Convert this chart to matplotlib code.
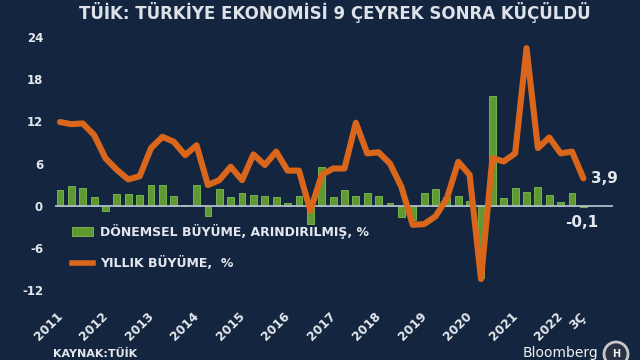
import matplotlib
matplotlib.use("Agg")
import matplotlib.pyplot as plt
from matplotlib.patches import Patch, Ellipse
from matplotlib.lines import Line2D
from matplotlib.transforms import ScaledTranslation
import numpy as np

# ---- data ----
quarterly = [2.3, 2.8, 2.6, 1.3, -0.8, 1.7, 1.75, 1.5, 2.9, 2.9, 1.4, 0.15,
             2.9, -1.5, 2.4, 1.3, 1.8, 1.5, 1.35, 1.2, 0.35, 1.45, -2.6, 5.5,
             1.3, 2.25, 1.45, 1.8, 1.4, 0.4, -1.55, -2.0, 1.8, 2.35, 1.2, 1.35,
             0.7, -10.3, 15.6, 1.05, 2.6, 1.95, 2.7, 1.6, 0.5, 1.85, -0.1]
annual = [11.9, 11.6, 11.7, 10.05, 6.75, 5.1, 3.75, 4.2, 8.2, 9.8, 9.1, 7.2,
          8.6, 2.95, 3.65, 5.55, 3.65, 7.3, 5.8, 7.7, 5.0, 5.0, -0.7, 4.4,
          5.3, 5.3, 11.8, 7.45, 7.6, 6.0, 2.7, -2.7, -2.6, -1.5, 1.05, 6.25,
          4.4, -10.4, 6.75, 6.3, 7.45, 22.4, 8.2, 9.7, 7.45, 7.7, 3.9]
year_labels = ["2011", "2012", "2013", "2014", "2015", "2016", "2017",
               "2018", "2019", "2020", "2021", "2022", "3Ç"]
label_idx = [0, 4, 8, 12, 16, 20, 24, 28, 32, 36, 40, 44, 46]
y_ticks = [-12, -6, 0, 6, 12, 18, 24]
title = "TÜİK: TÜRKİYE EKONOMİSİ 9 ÇEYREK SONRA KÜÇÜLDÜ"
bar_label = "DÖNEMSEL BÜYÜME, ARINDIRILMIŞ, %"
line_label = "YILLIK BÜYÜME,  %"
last_annual_txt = "3,9"
last_q_txt = "-0,1"

BG = "#13253f"
TXT = "#e4e8ee"
GREEN = "#5e9934"
ORANGE = "#d9661b"

W, H = 640, 360
fig = plt.figure(figsize=(6.4, 3.6), dpi=100, facecolor=BG)
ax_l, ax_r, ax_t, ax_b = 55, 613, 29.8, 304.4
ax = fig.add_axes([ax_l / W, 1 - ax_b / H, (ax_r - ax_l) / W, (ax_b - ax_t) / H])
ax.set_facecolor(BG)

x = np.arange(len(quarterly))
bars = ax.bar(x, quarterly, width=0.6, color=GREEN, edgecolor="#80be52",
              linewidth=0.6, zorder=2)
ax.axhline(0, color="#aebdcc", lw=1.3, zorder=3)
line, = ax.plot(x, annual, color=ORANGE, lw=4.4, solid_joinstyle="round",
                solid_capstyle="round", zorder=4)

ax.set_xlim(-0.44, 48.6)
ax.set_ylim(-14, 25)
for s in ax.spines.values():
    s.set_visible(False)
ax.set_yticks(y_ticks)
ax.set_yticklabels([str(v) for v in y_ticks])
ax.tick_params(axis="y", length=0, pad=8.6, labelsize=8.5, labelcolor=TXT)
for t in ax.get_yticklabels():
    t.set_fontweight("bold")
ax.set_xticks(label_idx)
ax.set_xticklabels(year_labels)
ax.tick_params(axis="x", length=0, pad=4, labelsize=8.8, labelcolor=TXT)
shift = ScaledTranslation(-4 / 100, 0, fig.dpi_scale_trans)
for t in ax.get_xticklabels():
    t.set_fontweight("bold")
    t.set_rotation(45)
    t.set_ha("right")
    t.set_va("top")
    t.set_rotation_mode("anchor")
    t.set_transform(t.get_transform() + shift)

# end labels
ax.annotate(last_annual_txt, xy=(46, annual[-1]), xytext=(8, 0),
            textcoords="offset pixels", ha="left", va="center",
            color=TXT, fontsize=11, fontweight="bold")
ax.annotate(last_q_txt, xy=(46, quarterly[-1]), xytext=(-18, -16),
            textcoords="offset pixels", ha="left", va="center",
            color=TXT, fontsize=11, fontweight="bold")

# legend
handles = [Patch(facecolor=GREEN, edgecolor="#80be52", linewidth=0.6),
           Line2D([0], [0], color=ORANGE, lw=4)]
leg = fig.legend(handles, [bar_label, line_label], loc="upper left",
                 bbox_to_anchor=(72 / W, 1 - 224 / H), frameon=False,
                 fontsize=9, handlelength=1.7, handletextpad=0.55,
                 labelspacing=1.35, borderaxespad=0, borderpad=0)
for t in leg.get_texts():
    t.set_color(TXT)
    t.set_fontweight("bold")

# title and footer
fig.text(335 / W, 1 - 2 / H, title, ha="center", va="top",
         color="#dde1e8", fontsize=12, fontweight="bold")
fig.text(53 / W, 1 - 349 / H, "KAYNAK:TÜİK", ha="left", va="top",
         color=TXT, fontsize=8, fontweight="bold")
fig.text(598 / W, 1 - 357 / H, "Bloomberg", ha="right", va="baseline",
         color="#f0f0f0", fontsize=10)
fig.add_artist(Ellipse((616 / W, 1 - 354 / H), 24 / W, 24 / H,
                       facecolor="#2a3344", edgecolor="#c8c8c8", lw=2,
                       transform=fig.transFigure))
fig.text(616 / W, 1 - 354 / H, "H", ha="center", va="center",
         color="#f0f0f0", fontsize=7, fontweight="bold")

fig.savefig("out.png", dpi=100, facecolor=BG)
